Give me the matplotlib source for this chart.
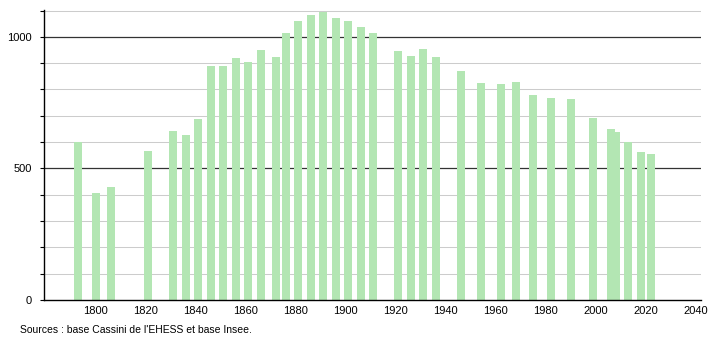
import numpy as np
from matplotlib import pyplot as plt

plt.rcParams["font.family"] = ["Liberation Sans", "DejaVu Sans"]

# census years and population
years = [1793, 1800, 1806, 1821, 1831, 1836, 1841, 1846, 1851, 1856,
         1861, 1866, 1872, 1876, 1881, 1886, 1891, 1896, 1901, 1906,
         1911, 1921, 1926, 1931, 1936, 1946, 1954, 1962, 1968, 1975,
         1982, 1990, 1999, 2006, 2008, 2013, 2018, 2022]
population = [600, 407, 430, 566, 642, 627, 689, 890, 890, 920,
              905, 951, 924, 1016, 1061, 1084, 1094, 1073, 1062, 1038,
              1013, 947, 929, 954, 924, 871, 825, 821, 829, 779,
              768, 762, 693, 650, 638, 600, 563, 555]

x_ticks = list(range(1800, 2041, 20))
y_labels = [0, 500, 1000]
bar_color = "#b3e6b3"

fig = plt.figure(figsize=(7.1, 3.4), dpi=100)
ax = fig.add_axes([0.062, 0.1176, 0.925, 0.853])

# gridlines every 100, darker at 500 / 1000
for v in range(100, 1101, 100):
    dark = v % 500 == 0
    ax.axhline(v, color="#333333" if dark else "#cccccc",
               linewidth=0.9 if dark else 0.75, zorder=0)

ax.bar(years, population, width=3.2, color=bar_color, zorder=2)

ax.set_xlim(1779.4, 2042.0)
ax.set_ylim(0, 1102)
ax.set_xticks(x_ticks)
ax.set_xticklabels([str(t) for t in x_ticks], fontsize=8)
ax.tick_params(axis="x", length=0, pad=4)
ax.set_yticks(range(0, 1101, 100))
ax.set_yticklabels([str(v) if v in y_labels else "" for v in range(0, 1101, 100)],
                   fontsize=8)
ax.tick_params(axis="y", length=3, width=0.8, pad=6)

for side in ["top", "right"]:
    ax.spines[side].set_visible(False)
ax.spines["left"].set_linewidth(1.0)
ax.spines["bottom"].set_linewidth(1.0)

fig.text(0.028, 0.02, "Sources : base Cassini de l'EHESS et base Insee.",
         fontsize=7.5)

fig.savefig("out.png", dpi=100)
